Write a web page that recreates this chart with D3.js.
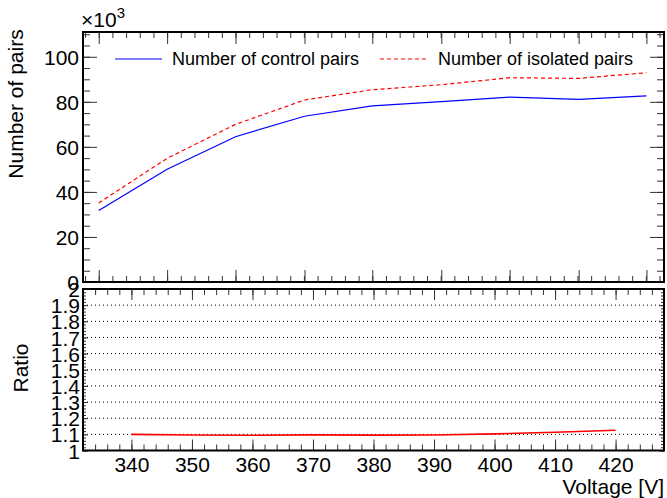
<!DOCTYPE html>
<html>
<head>
<meta charset="utf-8">
<script src="https://cdn.jsdelivr.net/npm/d3@7"></script>
<style>
  body { margin: 0; background: #fff; }
  svg text { font-family: "Liberation Sans", Arial, Helvetica, sans-serif; fill: #000; }
</style>
</head>
<body>
<svg id="chart" width="667" height="498"></svg>
<script>
// upper pad: pair counts (x10^3) per voltage point
var upperVoltage = [334.6, 345.9, 357.2, 368.6, 379.8, 391.2, 402.5, 413.9, 425.1];
var controlPairs = [31.7, 50.1, 64.5, 73.6, 78.2, 80.1, 82.1, 81.1, 82.6];
var isolatedPairs = [35.1, 54.9, 70.0, 80.8, 85.4, 87.6, 90.7, 90.4, 92.9];
// lower pad: ratio
var ratioVoltage = [340, 350, 360, 370, 380, 390, 400, 410, 420];
var ratioValues = [1.100, 1.096, 1.094, 1.097, 1.095, 1.096, 1.103, 1.113, 1.125];
var voltageTicks = [340, 350, 360, 370, 380, 390, 400, 410, 420];
var countTicks = [0, 20, 40, 60, 80, 100];
var ratioTicks = [1, 1.1, 1.2, 1.3, 1.4, 1.5, 1.6, 1.7, 1.8, 1.9, 2];
var legendLabels = ["Number of control pairs", "Number of isolated pairs"];

var svg = d3.select('#chart');
var left = 83, right = 664;
var up = {top: 32, bottom: 282};
var lo = {top: 289, bottom: 450.5};

var x = d3.scaleLinear().domain([332, 428]).range([left, right]);
var yUp = d3.scaleLinear().domain([0, 111]).range([up.bottom, up.top]);
var yLo = d3.scaleLinear().domain([1, 2]).range([lo.bottom, lo.top]);

// minor tick helpers
function minorBetween(vals, n, lo0, hi0){
	var step = (vals[1]-vals[0])/n, out = [];
	for (var v = vals[0]-step*10; v <= hi0 + 1e-9; v += step) {
		if (v >= lo0 - 1e-9) out.push(v);
	}
	return out;
}
function d3range(a, b, s){ return d3.range(Math.round((b-a)/s)+1).map(function(i){return a+i*s;}); }

function ticks(g, axisFn, scale, vals, len){
	g.call(axisFn(scale).tickValues(vals).tickSize(len).tickSizeOuter(0).tickFormat(''))
	 .call(function(s){ s.select('.domain').remove(); })
	 .selectAll('line').attr('stroke', '#333').attr('stroke-width', 1);
}

// ---------- upper pad ----------
var upper = svg.append('g').attr('id', 'upperPad');
var upMinorX = minorBetween(upperVoltage, 5, 332, 428);
var upMinorY = d3range(0, 110, 5);

ticks(upper.append('g').attr('transform', 'translate(0,' + up.top + ')'), d3.axisBottom, x, upMinorX, 6);
ticks(upper.append('g').attr('transform', 'translate(0,' + up.top + ')'), d3.axisBottom, x, upperVoltage, 12);
ticks(upper.append('g').attr('transform', 'translate(0,' + up.bottom + ')'), d3.axisTop, x, upMinorX, 6);
ticks(upper.append('g').attr('transform', 'translate(0,' + up.bottom + ')'), d3.axisTop, x, upperVoltage, 12);
ticks(upper.append('g').attr('transform', 'translate(' + left + ',0)'), d3.axisRight, yUp, upMinorY, 7);
ticks(upper.append('g').attr('transform', 'translate(' + left + ',0)'), d3.axisRight, yUp, countTicks, 14);
ticks(upper.append('g').attr('transform', 'translate(' + right + ',0)'), d3.axisLeft, yUp, upMinorY, 7);
ticks(upper.append('g').attr('transform', 'translate(' + right + ',0)'), d3.axisLeft, yUp, countTicks, 14);

upper.append('g')
	.attr('transform', 'translate(' + (left - 4) + ',0)')
	.call(d3.axisLeft(yUp).tickValues(countTicks).tickSize(0).tickFormat(d3.format('d')))
	.call(function(s){ s.select('.domain').remove(); })
	.selectAll('text').style('font-size', '21px').attr('x', 0).attr('dy', '0.36em');

var line = d3.line().x(function(d){return x(d[0]);}).y(function(d){return yUp(d[1]);});
upper.append('path')
	.datum(d3.zip(upperVoltage, controlPairs))
	.attr('d', line).attr('fill', 'none').attr('stroke', '#0000ff').attr('stroke-width', 1.2);
upper.append('path')
	.datum(d3.zip(upperVoltage, isolatedPairs))
	.attr('d', line).attr('fill', 'none').attr('stroke', '#ff0000').attr('stroke-width', 1.2)
	.attr('stroke-dasharray', '4,3');

upper.append('rect')
	.attr('x', left).attr('y', up.top).attr('width', right-left).attr('height', up.bottom-up.top)
	.attr('fill', 'none').attr('stroke', '#000').attr('stroke-width', 2);

// legend
var legend = upper.append('g').attr('id', 'legend');
var legItems = [
	{label: legendLabels[0], color: '#0000ff', dash: null, x0: 115, x1: 162, tx: 172},
	{label: legendLabels[1], color: '#ff0000', dash: '4,3', x0: 380, x1: 426, tx: 438}
];
legend.selectAll('g').data(legItems).enter().append('g')
	.each(function(d){
		d3.select(this).append('line')
			.attr('x1', d.x0).attr('x2', d.x1).attr('y1', 59).attr('y2', 59)
			.attr('stroke', d.color).attr('stroke-width', 1.2)
			.attr('stroke-dasharray', d.dash);
		d3.select(this).append('text')
			.attr('x', d.tx).attr('y', 65).style('font-size', '18px').text(d.label);
	});

// x10^3
var exp = upper.append('text').attr('x', 81).attr('y', 27).style('font-size', '21px');
exp.append('tspan').text('\u00d710');
exp.append('tspan').attr('dy', -9).style('font-size', '15px').text('3');

upper.append('text')
	.attr('transform', 'translate(23,104) rotate(-90)')
	.attr('text-anchor', 'middle').style('font-size', '21px')
	.text('Number of pairs');

// ---------- lower pad ----------
var lower = svg.append('g').attr('id', 'lowerPad');
var loMinorX = d3range(332, 428, 2);
var loMinorY = d3range(1, 2, 0.02);

lower.append('g').attr('id', 'grid')
	.selectAll('line')
	.data(ratioTicks.slice(1, -1))
	.enter().append('line')
	.attr('x1', left).attr('x2', right)
	.attr('y1', function(d){return yLo(d);}).attr('y2', function(d){return yLo(d);})
	.attr('stroke', '#000').attr('stroke-width', 1).attr('stroke-dasharray', '1,3');

ticks(lower.append('g').attr('transform', 'translate(0,' + lo.top + ')'), d3.axisBottom, x, loMinorX, 6);
ticks(lower.append('g').attr('transform', 'translate(0,' + lo.top + ')'), d3.axisBottom, x, voltageTicks, 11);
ticks(lower.append('g').attr('transform', 'translate(0,' + lo.bottom + ')'), d3.axisTop, x, loMinorX, 6);
ticks(lower.append('g').attr('transform', 'translate(0,' + lo.bottom + ')'), d3.axisTop, x, voltageTicks, 11);
ticks(lower.append('g').attr('transform', 'translate(' + left + ',0)'), d3.axisRight, yLo, loMinorY, 3);
ticks(lower.append('g').attr('transform', 'translate(' + left + ',0)'), d3.axisRight, yLo, ratioTicks, 5);
ticks(lower.append('g').attr('transform', 'translate(' + right + ',0)'), d3.axisLeft, yLo, loMinorY, 3);
ticks(lower.append('g').attr('transform', 'translate(' + right + ',0)'), d3.axisLeft, yLo, ratioTicks, 5);

lower.append('g')
	.attr('transform', 'translate(' + (left - 3) + ',0)')
	.call(d3.axisLeft(yLo).tickValues(ratioTicks).tickSize(0).tickFormat(function(d){return String(+d.toFixed(1));}))
	.call(function(s){ s.select('.domain').remove(); })
	.selectAll('text').style('font-size', '21px').attr('x', 0).attr('dy', '0.36em');

lower.append('g')
	.attr('transform', 'translate(0,' + (lo.bottom + 4) + ')')
	.call(d3.axisBottom(x).tickValues(voltageTicks).tickSize(0).tickFormat(d3.format('d')))
	.call(function(s){ s.select('.domain').remove(); })
	.selectAll('text').style('font-size', '21px').attr('y', 0).attr('dy', '0.85em');

var rLine = d3.line().x(function(d){return x(d[0]);}).y(function(d){return yLo(d[1]);});
lower.append('path')
	.datum(d3.zip(ratioVoltage, ratioValues))
	.attr('d', rLine).attr('fill', 'none').attr('stroke', '#ff0000').attr('stroke-width', 1.6);

lower.append('rect')
	.attr('x', left).attr('y', lo.top).attr('width', right-left).attr('height', lo.bottom-lo.top)
	.attr('fill', 'none').attr('stroke', '#000').attr('stroke-width', 2);

lower.append('text')
	.attr('transform', 'translate(28,368) rotate(-90)')
	.attr('text-anchor', 'middle').style('font-size', '21px')
	.text('Ratio');

lower.append('text')
	.attr('x', right).attr('y', 494).attr('text-anchor', 'end').style('font-size', '21px')
	.text('Voltage [V]');
</script>
</body>
</html>
